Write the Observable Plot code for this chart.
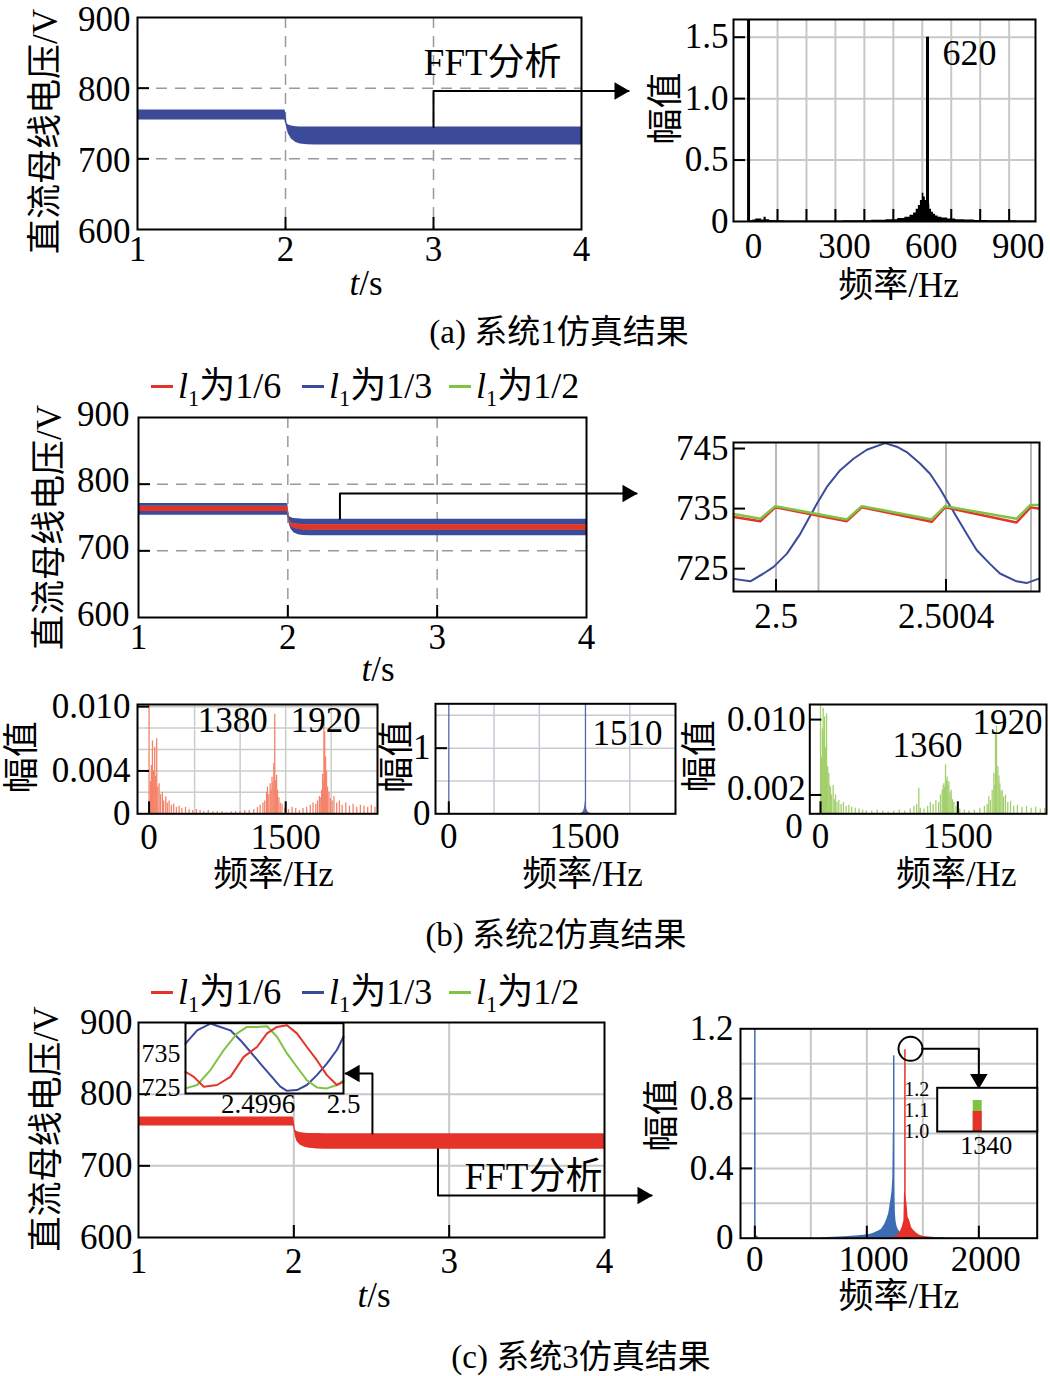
<!DOCTYPE html>
<html lang="zh">
<head>
<meta charset="utf-8">
<script src="https://cdn.jsdelivr.net/npm/d3@7"></script>
<script src="https://cdn.jsdelivr.net/npm/@observablehq/plot@0.6"></script>
<style>
html,body{margin:0;padding:0;background:#fff;}
#root{position:relative;width:1050px;height:1376px;overflow:hidden;background:#fff;font-family:'Liberation Serif','Noto Sans CJK SC',serif;color:#000;}
.lbl{position:absolute;white-space:nowrap;line-height:1;transform:translate(-50%,-50%);}
.leg{position:absolute;white-space:nowrap;line-height:1;font-size:36px;transform:translateY(-50%);}
.sw{display:inline-block;width:22px;height:3px;vertical-align:middle;margin-right:5px;position:relative;top:-3px;}
.leg sub{font-size:0.62em;line-height:0;vertical-align:-0.35em;}
</style>
</head>
<body>
<div id="root"></div>
<script>
// ================= DATA =================
// (a) 系统1: DC-bus voltage envelope (t in s, V)
const tA   = [1, 1.995, 2.0, 2.01, 2.02, 2.04, 2.07, 2.1, 2.15, 2.2, 4];
const hiA  = [769, 769, 767, 750, 748, 746.5, 745.5, 745, 745, 745, 745];
const loA  = [755, 755, 752, 742, 735, 728, 723, 721, 720, 719.5, 719.5];
const tTicks = [1, 2, 3, 4];
const vTicks = [600, 700, 800, 900];
// (a) FFT spectrum (Hz, amplitude)
const specA = [[0,0.004],[10,0.006],[20,0.012],[30,0.02],[40,0.02],[50,0.012],[57,0.035],[65,0.015],[80,0.008],[100,0.006],[150,0.005],[200,0.004],[250,0.004],[300,0.005],[350,0.006],[400,0.007],[450,0.01],[500,0.015],[530,0.025],[550,0.035],[565,0.05],[575,0.07],[583,0.1],[590,0.13],[597,0.17],[603,0.23],[608,0.2],[613,0.17],[618,0.16],[623,0.14],[629,0.1],[635,0.075],[642,0.06],[650,0.045],[660,0.035],[675,0.028],[700,0.02],[730,0.015],[760,0.012],[800,0.009],[850,0.007],[900,0.006],[950,0.005],[990,0.005]];
const spikesA = [[0, 1.644], [618, 1.5]];
const fTicksA = [0, 300, 600, 900];
const fGridA = [100, 200, 300, 400, 500, 600, 700, 800, 900];
const aTicksA = [0, 0.5, 1.0, 1.5];

// (b) 系统2: envelopes for l1 = 1/6 (red), 1/3 (blue), 1/2 (green)
const tB = [1, 1.995, 2.0, 2.01, 2.02, 2.04, 2.07, 2.1, 2.15, 2.2, 4];
const blueHiB  = [771, 771, 769, 752, 750, 748.5, 748, 747.5, 747.5, 747.5, 747.5];
const blueLoB  = [753.5, 753.5, 751, 740, 733, 727, 724, 723, 722.5, 722.5, 722.5];
const greenHiB = [766.8, 766.8, 764.8, 746.3, 742.3, 740.3, 739.8, 739.3, 739.3, 739.3, 739.3];
const greenLoB = [759.3, 759.3, 757.3, 742.3, 737.3, 734.3, 732.3, 731.8, 731.3, 731.3, 731.3];
const redHiB   = [766.5, 766.5, 764.5, 746, 742, 740, 739.5, 739, 739, 739, 739];
const redLoB   = [759, 759, 757, 742, 737, 734, 732, 731.5, 731, 731, 731];
// (b) zoom window 2.4999–2.5006 s
const zoomBlue = [[2.4999005,723.3],[2.4999396,722.9],[2.4999709,724.2],[2.4999944,725.3],[2.5000258,727.5],[2.5000571,730.8],[2.5000962,735.8],[2.5001197,738.6],[2.5001510,741.4],[2.5001823,743.3],[2.5002137,744.8],[2.5002567,745.9],[2.5002841,745.3],[2.5003076,744.4],[2.5003389,742.5],[2.5003624,740.8],[2.5003859,738.3],[2.5004016,736.4],[2.5004251,733.6],[2.5004486,730.8],[2.5004720,728.1],[2.5005034,725.8],[2.5005269,724.2],[2.5005660,722.9],[2.5005895,722.6],[2.5006169,723.3]];
const zoomRed = [[2.4999005,733.6],[2.4999631,732.9],[2.4999984,735.2],[2.5001667,732.9],[2.5002019,735.2],[2.5003663,732.8],[2.5003977,735.2],[2.5005660,732.7],[2.5005989,735.2],[2.5006169,735.0]];
const zoomGreen = [[2.4999005,734.1],[2.4999631,733.3],[2.4999984,735.4],[2.5001667,733.2],[2.5002019,735.4],[2.5003663,733.2],[2.5003977,735.4],[2.5005660,733.3],[2.5005989,735.6],[2.5006169,735.6]];
const zoomTTicks = [2.5, 2.5004];
const zoomTGrid = [2.5, 2.5001, 2.5004, 2.5006];
const zoomVTicks = [725, 735, 745];
// (b) FFT spectra
const specB1 = [[0,0.0102],[15,0.0030],[25,0.0045],[37,0.0068],[50,0.0040],[62,0.0062],[72,0.0035],[84,0.0070],[95,0.0025],[110,0.0028],[125,0.0018],[146,0.0020],[160,0.0012],[183,0.0016],[200,0.0010],[220,0.0012],[245,0.0008],[270,0.0009],[300,0.0006],[330,0.0007],[360,0.0005],[400,0.0006],[440,0.0004],[480,0.0003],[520,0.0004],[560,0.0003],[600,0.0002],[650,0.0003],[700,0.0002],[750,0.0002],[800,0.0002],[850,0.0001],[900,0.0002],[950,0.0002],[1000,0.0002],[1050,0.0003],[1100,0.0003],[1150,0.0004],[1190,0.0006],[1220,0.0008],[1250,0.0010],[1270,0.0012],[1290,0.0020],[1300,0.0025],[1315,0.0018],[1330,0.0028],[1340,0.0022],[1350,0.0034],[1360,0.0030],[1370,0.0047],[1380,0.0093],[1390,0.0031],[1400,0.0036],[1410,0.0022],[1425,0.0015],[1440,0.0010],[1460,0.0009],[1490,0.0005],[1530,0.0004],[1570,0.0006],[1610,0.0005],[1650,0.0003],[1690,0.0005],[1730,0.0006],[1770,0.0008],[1800,0.0010],[1830,0.0009],[1850,0.0012],[1870,0.0016],[1885,0.0015],[1895,0.0022],[1905,0.0037],[1913,0.0030],[1920,0.0084],[1928,0.0076],[1938,0.0053],[1948,0.0040],[1960,0.0025],[1975,0.0020],[1990,0.0014],[2010,0.0012],[2030,0.0016],[2060,0.0010],[2090,0.0012],[2120,0.0008],[2160,0.0010],[2200,0.0007],[2240,0.0009],[2280,0.0006],[2320,0.0008],[2360,0.0007],[2400,0.0006],[2440,0.0008],[2480,0.0006]];
const spikesB2 = [[0, 1.676], [1510, 1.676]];
const skirtB2 = [[1460,0.005],[1480,0.02],[1495,0.06],[1503,0.12],[1510,0.2],[1517,0.15],[1525,0.07],[1540,0.025],[1560,0.008]];
const specB3 = [[0,0.0116],[10,0.0060],[20,0.0090],[29,0.0112],[36,0.0080],[44,0.0103],[55,0.0070],[66,0.0106],[78,0.0050],[91,0.0043],[100,0.0030],[109,0.0028],[120,0.0020],[138,0.0030],[150,0.0015],[164,0.0020],[180,0.0012],[200,0.0014],[225,0.0010],[250,0.0012],[280,0.0008],[310,0.0009],[340,0.0007],[380,0.0006],[420,0.0005],[460,0.0004],[500,0.0003],[560,0.0003],[620,0.0004],[680,0.0003],[740,0.0002],[800,0.0003],[860,0.0004],[920,0.0003],[980,0.0005],[1020,0.0008],[1050,0.0010],[1074,0.0027],[1090,0.0006],[1130,0.0005],[1170,0.0008],[1200,0.0012],[1230,0.0010],[1260,0.0014],[1290,0.0012],[1310,0.0020],[1329,0.0025],[1340,0.0030],[1347,0.0032],[1355,0.0028],[1365,0.0052],[1375,0.0035],[1383,0.0039],[1392,0.0030],[1402,0.0034],[1415,0.0022],[1427,0.0025],[1440,0.0015],[1456,0.0012],[1480,0.0008],[1520,0.0005],[1570,0.0004],[1620,0.0003],[1680,0.0004],[1740,0.0006],[1790,0.0008],[1820,0.0010],[1838,0.0018],[1855,0.0014],[1875,0.0025],[1893,0.0043],[1903,0.0030],[1911,0.0085],[1922,0.0093],[1937,0.0050],[1948,0.0040],[1958,0.0032],[1970,0.0024],[1984,0.0025],[2000,0.0018],[2020,0.0020],[2045,0.0012],[2075,0.0013],[2110,0.0008],[2150,0.0009],[2200,0.0007],[2250,0.0008],[2300,0.0006],[2350,0.0007],[2400,0.0005],[2450,0.0006]];
const fTicksB = [0, 1500];
const fGridB = [500, 1000, 1500, 2000];

// (c) 系统3
const tC  = [1, 1.995, 2.0, 2.01, 2.02, 2.04, 2.07, 2.1, 2.15, 2.2, 4];
const hiC = [768, 768, 766, 750, 748, 746.5, 745.5, 745, 745, 744.7, 744.7];
const loC = [755.5, 755.5, 753, 741, 734, 729, 726, 724.5, 723.5, 723, 723];
// (c) inset 2.49926–2.5 s
const insetBlue  = [[2.4992600,737.9],[2.4993145,741.8],[2.4993768,743.8],[2.4994236,742.8],[2.4994703,741.8],[2.4995171,738.9],[2.4995638,735.5],[2.4996105,732.0],[2.4996573,728.6],[2.4997040,725.2],[2.4997352,724.0],[2.4997819,724.2],[2.4998286,725.7],[2.4998754,728.6],[2.4999221,732.0],[2.4999688,736.0],[2.5000000,739.9]];
const insetGreen = [[2.4992600,724.7],[2.4993145,725.7],[2.4993768,730.1],[2.4994392,736.0],[2.4995015,740.9],[2.4995482,742.8],[2.4995949,742.8],[2.4996417,743.0],[2.4996884,739.9],[2.4997352,735.0],[2.4997819,731.0],[2.4998286,727.1],[2.4998754,725.0],[2.4999221,724.7],[2.4999688,725.7],[2.5000000,727.1]];
const insetRed   = [[2.4992600,729.6],[2.4992989,728.1],[2.4993457,725.2],[2.4994080,725.7],[2.4994703,728.1],[2.4995326,734.0],[2.4995949,736.9],[2.4996417,740.9],[2.4996884,742.8],[2.4997352,743.3],[2.4997819,740.9],[2.4998286,736.9],[2.4998754,733.0],[2.4999221,728.6],[2.4999688,725.7],[2.5000000,726.6]];
const insetTTicks = [2.4996, 2.5];
const insetVTicks = [725, 735];
// (c) FFT
const skirtCblue = [[600,0.003],[700,0.005],[800,0.008],[900,0.012],[1000,0.018],[1050,0.025],[1100,0.04],[1130,0.05],[1160,0.08],[1180,0.11],[1195,0.14],[1205,0.18],[1215,0.22],[1225,0.27],[1232,0.35],[1236,0.6],[1242,0.6],[1245,0.4],[1249,0.22],[1254,0.15],[1260,0.1],[1268,0.07],[1280,0.05],[1295,0.035],[1315,0.025],[1340,0.018],[1380,0.012],[1450,0.008],[1550,0.005],[1700,0.003]];
const spikesCblue = [[0,1.2],[12,0.012],[22,0.008],[1240,1.045]];
const skirtCred = [[1220,0.004],[1260,0.01],[1280,0.02],[1300,0.04],[1316,0.063],[1331,0.1],[1336,0.26],[1340,0.27],[1348,0.24],[1358,0.2],[1368,0.12],[1383,0.1],[1400,0.06],[1419,0.044],[1450,0.025],[1478,0.015],[1520,0.008],[1600,0.004]];
const spikesCred = [[1340,1.08]];
const peakC = [[1340, 1.149, "green"], [1340, 1.096, "red"]];
const fTicksC = [0, 1000, 2000];
const aTicksC = [0, 0.4, 0.8, 1.2];
const aGridC = [0.2, 0.4, 0.6, 0.8, 1.0];
const peakTicks = [1.0, 1.1, 1.2];

// ================= RENDER =================
const FONT = "'Liberation Serif','Noto Sans CJK SC',serif";
const BLUE = "#3c4a9a", RED = "#e5332a", GREEN = "#7fc244";
const SALMON = "#f4836a", LGREEN = "#a3cf6c", BGRAY = "#5866a6";
const CBLUE = "#3c6cb4", CRED = "#e8302a";
const root = document.getElementById("root");

function panel(box, frame, xdom, ydom, build) {
  const [left, top, width, height] = box;
  const [L, T, R, B] = frame;
  const c = {L, T, R, B, xdom, ydom};
  const svg = Plot.plot({
    width, height,
    marginLeft: L - left, marginTop: T - top, marginRight: left + width - R, marginBottom: top + height - B,
    x: {type: "linear", domain: xdom}, y: {type: "linear", domain: ydom},
    style: {fontFamily: FONT, fontSize: "35px", background: "transparent", overflow: "visible", color: "black"},
    marks: build(c)
  });
  svg.style.position = "absolute"; svg.style.left = left + "px"; svg.style.top = top + "px";
  root.appendChild(svg);
}
const tickInX = (c, vals, px = 12) => Plot.ruleX(vals, {y1: c.ydom[0], y2: c.ydom[0] + (c.ydom[1] - c.ydom[0]) * px / (c.B - c.T), stroke: "black", strokeWidth: 2});
const tickInY = (c, vals, px = 12) => Plot.ruleY(vals, {x1: c.xdom[0], x2: c.xdom[0] + (c.xdom[1] - c.xdom[0]) * px / (c.R - c.L), stroke: "black", strokeWidth: 2});
const axX = (ticks, o = {}) => Plot.axisX({ticks, tickSize: 0, label: null, fontSize: 35, tickFormat: d => String(d), ...o});
const axY = (ticks, o = {}) => Plot.axisY({ticks, tickSize: 0, label: null, fontSize: 35, tickFormat: d => String(d), ...o});
const ytitle = (s, dx, dy, fs = 35) => Plot.text([s], {text: d => d, frameAnchor: "left", textAnchor: "middle", lineAnchor: "middle", dx, dy, rotate: -90, fontSize: fs});
const xtitle = (s, dx, dy, fs = 35) => Plot.text([s], {text: d => d, frameAnchor: "bottom", textAnchor: "middle", lineAnchor: "middle", dx, dy, fontSize: fs});
const note = (s, x, y, fs = 35) => Plot.text([{x, y, s}], {x: "x", y: "y", text: "s", fontSize: fs});
const path = (pts) => Plot.line(pts, {x: d => d[0], y: d => d[1], stroke: "black", strokeWidth: 2});
const head = (p, rot, dx, dy) => Plot.dot([p], {x: d => d[0], y: d => d[1], symbol: "triangle", r: 6.5, rotate: rot, fill: "black", dx, dy});
const band = (t, lo, hi, fill) => Plot.areaY(t.map((v, i) => ({t: v, lo: lo[i], hi: hi[i]})), {x: "t", y1: "lo", y2: "hi", fill});
const dashGrid = {stroke: "#9a9a9a", strokeWidth: 1.5, strokeDasharray: "11,8"};
const solidGrid = {stroke: "#c8c8c8", strokeWidth: 2};
const fmt1 = d => d === 0 ? "0" : d.toFixed(1);
const fmt3 = d => d === 0 ? "0" : d.toFixed(3);

// ---- (a) left
panel([0, 0, 640, 300], [137, 17, 581, 229], [1, 4], [600, 900], c => [
  Plot.ruleX([2, 3], dashGrid), Plot.ruleY([700, 800], dashGrid),
  band(tA, loA, hiA, BLUE),
  Plot.frame({stroke: "black", strokeWidth: 2}),
  tickInX(c, [2, 3]), tickInY(c, [700, 800]),
  axX(tTicks, {tickPadding: 7}), axY(vTicks, {tickPadding: 7, dy: 2}),
  ytitle("直流母线电压/V", 45 - 137, 8),
  path([[3, 745], [3, 796], [4.318, 796]]), head([4.318, 796], 90, -9, 0),
  note("FFT分析", 3.40, 836, 37)
]);
// ---- (a) right
panel([640, 0, 410, 300], [733, 19, 1035, 221], [-52, 991], [0, 1.644], c => [
  Plot.ruleX(fGridA, solidGrid), Plot.ruleY([0.5, 1, 1.5], solidGrid),
  Plot.areaY(specA, {x: d => d[0], y: d => d[1], fill: "black", curve: "step"}),
  Plot.ruleX(spikesA, {x: d => d[0], y1: 0, y2: d => d[1], stroke: "black", strokeWidth: 3}),
  Plot.frame({stroke: "black", strokeWidth: 2}),
  tickInX(c, fGridA), tickInY(c, [0.5, 1, 1.5]),
  axX([0], {tickPadding: 12, dx: 5}), axX(fTicksA.slice(1), {tickPadding: 12, dx: 9}),
  axY(aTicksA, {tickPadding: 5, tickFormat: fmt1}),
  ytitle("幅值", 666 - 733, -12, 36),
  xtitle("频率/Hz", 14, 64),
  note("620", 763, 1.367, 36)
]);

// ---- (b) left
panel([0, 395, 645, 295], [138, 417, 586, 617], [1, 4], [600, 900], c => [
  Plot.ruleX([2, 3], dashGrid), Plot.ruleY([700, 800], dashGrid),
  band(tB, blueLoB, blueHiB, BLUE),
  band(tB, greenLoB, greenHiB, GREEN),
  band(tB, redLoB, redHiB, RED),
  Plot.frame({stroke: "black", strokeWidth: 2}),
  tickInX(c, [2, 3]), tickInY(c, [700, 800]),
  axX(tTicks, {tickPadding: 7}), axY(vTicks, {tickPadding: 9, dy: -3}),
  ytitle("直流母线电压/V", 49 - 138, 10),
  path([[2.349, 748], [2.349, 786], [4.335, 786]]), head([4.335, 786], 90, -9, 0)
]);
// ---- (b) right zoom
panel([640, 420, 410, 230], [733, 442, 1039, 591], [2.4999, 2.50062], [721.2, 746], c => [
  Plot.ruleX(zoomTGrid, {stroke: "#b8b8b8", strokeWidth: 2}),
  Plot.line(zoomBlue, {x: d => d[0], y: d => d[1], stroke: BLUE, strokeWidth: 2}),
  Plot.line(zoomRed, {x: d => d[0], y: d => d[1], stroke: RED, strokeWidth: 2.5}),
  Plot.line(zoomGreen, {x: d => d[0], y: d => d[1], stroke: GREEN, strokeWidth: 2.5}),
  Plot.frame({stroke: "black", strokeWidth: 2}),
  tickInX(c, zoomTTicks), tickInY(c, zoomVTicks),
  axX(zoomTTicks, {tickPadding: 12}), axY(zoomVTicks, {tickPadding: 5})
]);
// ---- (b) FFT 1
panel([0, 690, 385, 200], [137, 704, 377, 813.3], [-127, 2508], [0, 0.0102], c => [
  Plot.ruleX(fGridB, {stroke: "#cccccc", strokeWidth: 1.5}),
  Plot.ruleY([0.002, 0.004, 0.006, 0.008, 0.010], {stroke: "#cccccc", strokeWidth: 1.5}),
  Plot.ruleX(specB1, {x: d => d[0], y1: 0, y2: d => d[1], stroke: SALMON, strokeWidth: 1.3}),
  Plot.frame({stroke: "black", strokeWidth: 2}),
  tickInX(c, fTicksB), tickInY(c, [0.004, 0.010]),
  axX(fTicksB, {tickPadding: 10}), axY([0, 0.004, 0.010], {tickPadding: 7, tickFormat: fmt3}),
  ytitle("幅值", 22 - 137, -2, 36),
  xtitle("频率/Hz", 16, 61),
  note("1380", 919, 0.00872), note("1920", 1940, 0.00872)
]);
// ---- (b) FFT 2
panel([385, 690, 300, 200], [435, 703.3, 675, 813.3], [-147, 2505], [0, 1.676], c => [
  Plot.ruleX([500, 1000, 2000], {stroke: "#c8cad6", strokeWidth: 1.5}),
  Plot.ruleY([0.5, 1, 1.5], {stroke: "#c8cad6", strokeWidth: 1.5}),
  Plot.areaY(skirtB2, {x: d => d[0], y: d => d[1], fill: BGRAY}),
  Plot.ruleX(spikesB2, {x: d => d[0], y1: 0, y2: d => d[1], stroke: BGRAY, strokeWidth: 1.3}),
  Plot.frame({stroke: "black", strokeWidth: 2}),
  tickInX(c, [0]), tickInY(c, [1]),
  axX(fTicksB, {tickPadding: 9}), axY([0, 1], {tickPadding: 5}),
  ytitle("幅值", 397 - 435, -2, 36),
  xtitle("频率/Hz", 27, 61),
  note("1510", 1975, 1.224)
]);
// ---- (b) FFT 3
panel([685, 690, 365, 200], [809.3, 704, 1046, 813.3], [-117, 2468], [0, 0.0116], c => [
  Plot.ruleX(specB3, {x: d => d[0], y1: 0, y2: d => d[1], stroke: LGREEN, strokeWidth: 1.3}),
  Plot.frame({stroke: "black", strokeWidth: 2}),
  tickInX(c, fTicksB), tickInY(c, [0.002, 0.010]),
  axX(fTicksB, {tickPadding: 9}),
  axY([0.010], {tickPadding: 4, tickFormat: fmt3}),
  axY([0.002], {tickPadding: 4, dy: -6, tickFormat: fmt3}),
  axY([0], {tickPadding: 4, dx: -3, dy: 13, tickFormat: fmt3}),
  ytitle("幅值", 700 - 809, -3, 36),
  xtitle("频率/Hz", 28, 61),
  note("1360", 1168, 0.00727), note("1920", 2041, 0.00961)
]);

// ---- (c) left
panel([0, 1000, 660, 320], [138, 1022, 604, 1237], [1, 4], [600, 900], c => [
  Plot.ruleX([2, 3], solidGrid), Plot.ruleY([700, 800], solidGrid),
  band(tC, loC, hiC, RED),
  Plot.frame({stroke: "black", strokeWidth: 2}),
  tickInX(c, [2, 3]), tickInY(c, [700, 800]),
  axX(tTicks, {tickPadding: 11}), axY(vTicks, {tickPadding: 6}),
  ytitle("直流母线电压/V", 46 - 138, -1),
  path([[2.506, 745], [2.506, 828.8], [2.333, 828.8]]), head([2.333, 828.8], -90, 9, 0),
  path([[2.928, 723], [2.928, 658.6], [4.303, 658.6]]), head([4.303, 658.6], 90, -9, 0),
  note("FFT分析", 3.543, 683.7, 37)
]);
// ---- (c) left inset
panel([140, 1012, 215, 110], [185, 1022.7, 343, 1093], [2.49926, 2.5], [723.2, 743.9], c => [
  Plot.frame({fill: "white"}),
  Plot.line(insetBlue, {x: d => d[0], y: d => d[1], stroke: BLUE, strokeWidth: 2}),
  Plot.line(insetGreen, {x: d => d[0], y: d => d[1], stroke: GREEN, strokeWidth: 2}),
  Plot.line(insetRed, {x: d => d[0], y: d => d[1], stroke: RED, strokeWidth: 2}),
  Plot.frame({stroke: "black", strokeWidth: 2}),
  axX(insetTTicks, {tickPadding: 0, fontSize: 27}), axY(insetVTicks, {tickPadding: 5, fontSize: 26})
]);
// ---- (c) right FFT
panel([660, 1000, 390, 320], [740, 1028.3, 1036.7, 1237.7], [-128, 2521], [0, 1.2], c => [
  Plot.ruleX(fGridB, solidGrid), Plot.ruleY(aGridC, solidGrid),
  Plot.areaY(skirtCblue, {x: d => d[0], y: d => d[1], fill: CBLUE}),
  Plot.ruleX(spikesCblue, {x: d => d[0], y1: 0, y2: d => d[1], stroke: CBLUE, strokeWidth: 1.5}),
  Plot.areaY(skirtCred, {x: d => d[0], y: d => d[1], fill: CRED}),
  Plot.ruleX(spikesCred, {x: d => d[0], y1: 0, y2: d => d[1], stroke: CRED, strokeWidth: 1.5}),
  Plot.frame({stroke: "black", strokeWidth: 2}),
  tickInX(c, fTicksC), tickInY(c, [0.4, 0.8]),
  axX([0], {tickPadding: 8}), axX(fTicksC.slice(1), {tickPadding: 8, dx: 7}),
  axY(aTicksC, {tickPadding: 7, tickFormat: fmt1}),
  ytitle("幅值", 662 - 740, -18, 36),
  xtitle("频率/Hz", 10, 59),
  Plot.dot([[1390, 1.085]], {x: d => d[0], y: d => d[1], r: 12, stroke: "black", strokeWidth: 2, fill: "none"}),
  path([[1494, 1.085], [2000, 1.085], [2000, 0.861]]), head([2000, 0.861], 180, 0, -9)
]);
// ---- (c) right peak inset
panel([890, 1080, 155, 85], [936.7, 1087.3, 1036.7, 1131], [1300, 1400], [1.0, 1.21], c => [
  Plot.frame({fill: "white"}),
  Plot.ruleX(peakC, {x: d => d[0], y1: 1.0, y2: d => d[1], stroke: d => d[2] === "green" ? GREEN : RED, strokeWidth: 9}),
  Plot.frame({stroke: "black", strokeWidth: 2}),
  axY(peakTicks, {tickPadding: 8, fontSize: 20, tickFormat: d => d.toFixed(1)}),
  axX([1340], {tickPadding: 4, fontSize: 26, dx: 9})
]);

// ---- HTML texts: t/s, legends, captions
function html(cls, x, y, inner, extra = "") {
  const d = document.createElement("div");
  d.className = cls; d.style.left = x + "px"; d.style.top = y + "px";
  d.setAttribute("style", d.getAttribute("style") + ";" + extra);
  d.innerHTML = inner; root.appendChild(d);
}
html("lbl", 366, 283, "<i>t</i>/s", "font-size:35px");
html("lbl", 378, 669, "<i>t</i>/s", "font-size:35px");
html("lbl", 374, 1295, "<i>t</i>/s", "font-size:35px");
const legendItems = [["1/6", RED, 151], ["1/3", BLUE, 302], ["1/2", GREEN, 449]];
for (const y of [386, 992]) {
  for (const [s, col, x] of legendItems) {
    html("leg", x, y, `<span class="sw" style="background:${col}"></span><i>l</i><sub>1</sub>为${s}`);
  }
}
html("lbl", 559, 332, "(a) 系统1仿真结果", "font-size:33px");
html("lbl", 556, 935, "(b) 系统2仿真结果", "font-size:33px");
html("lbl", 581, 1357, "(c) 系统3仿真结果", "font-size:33px");
</script>
</body>
</html>
